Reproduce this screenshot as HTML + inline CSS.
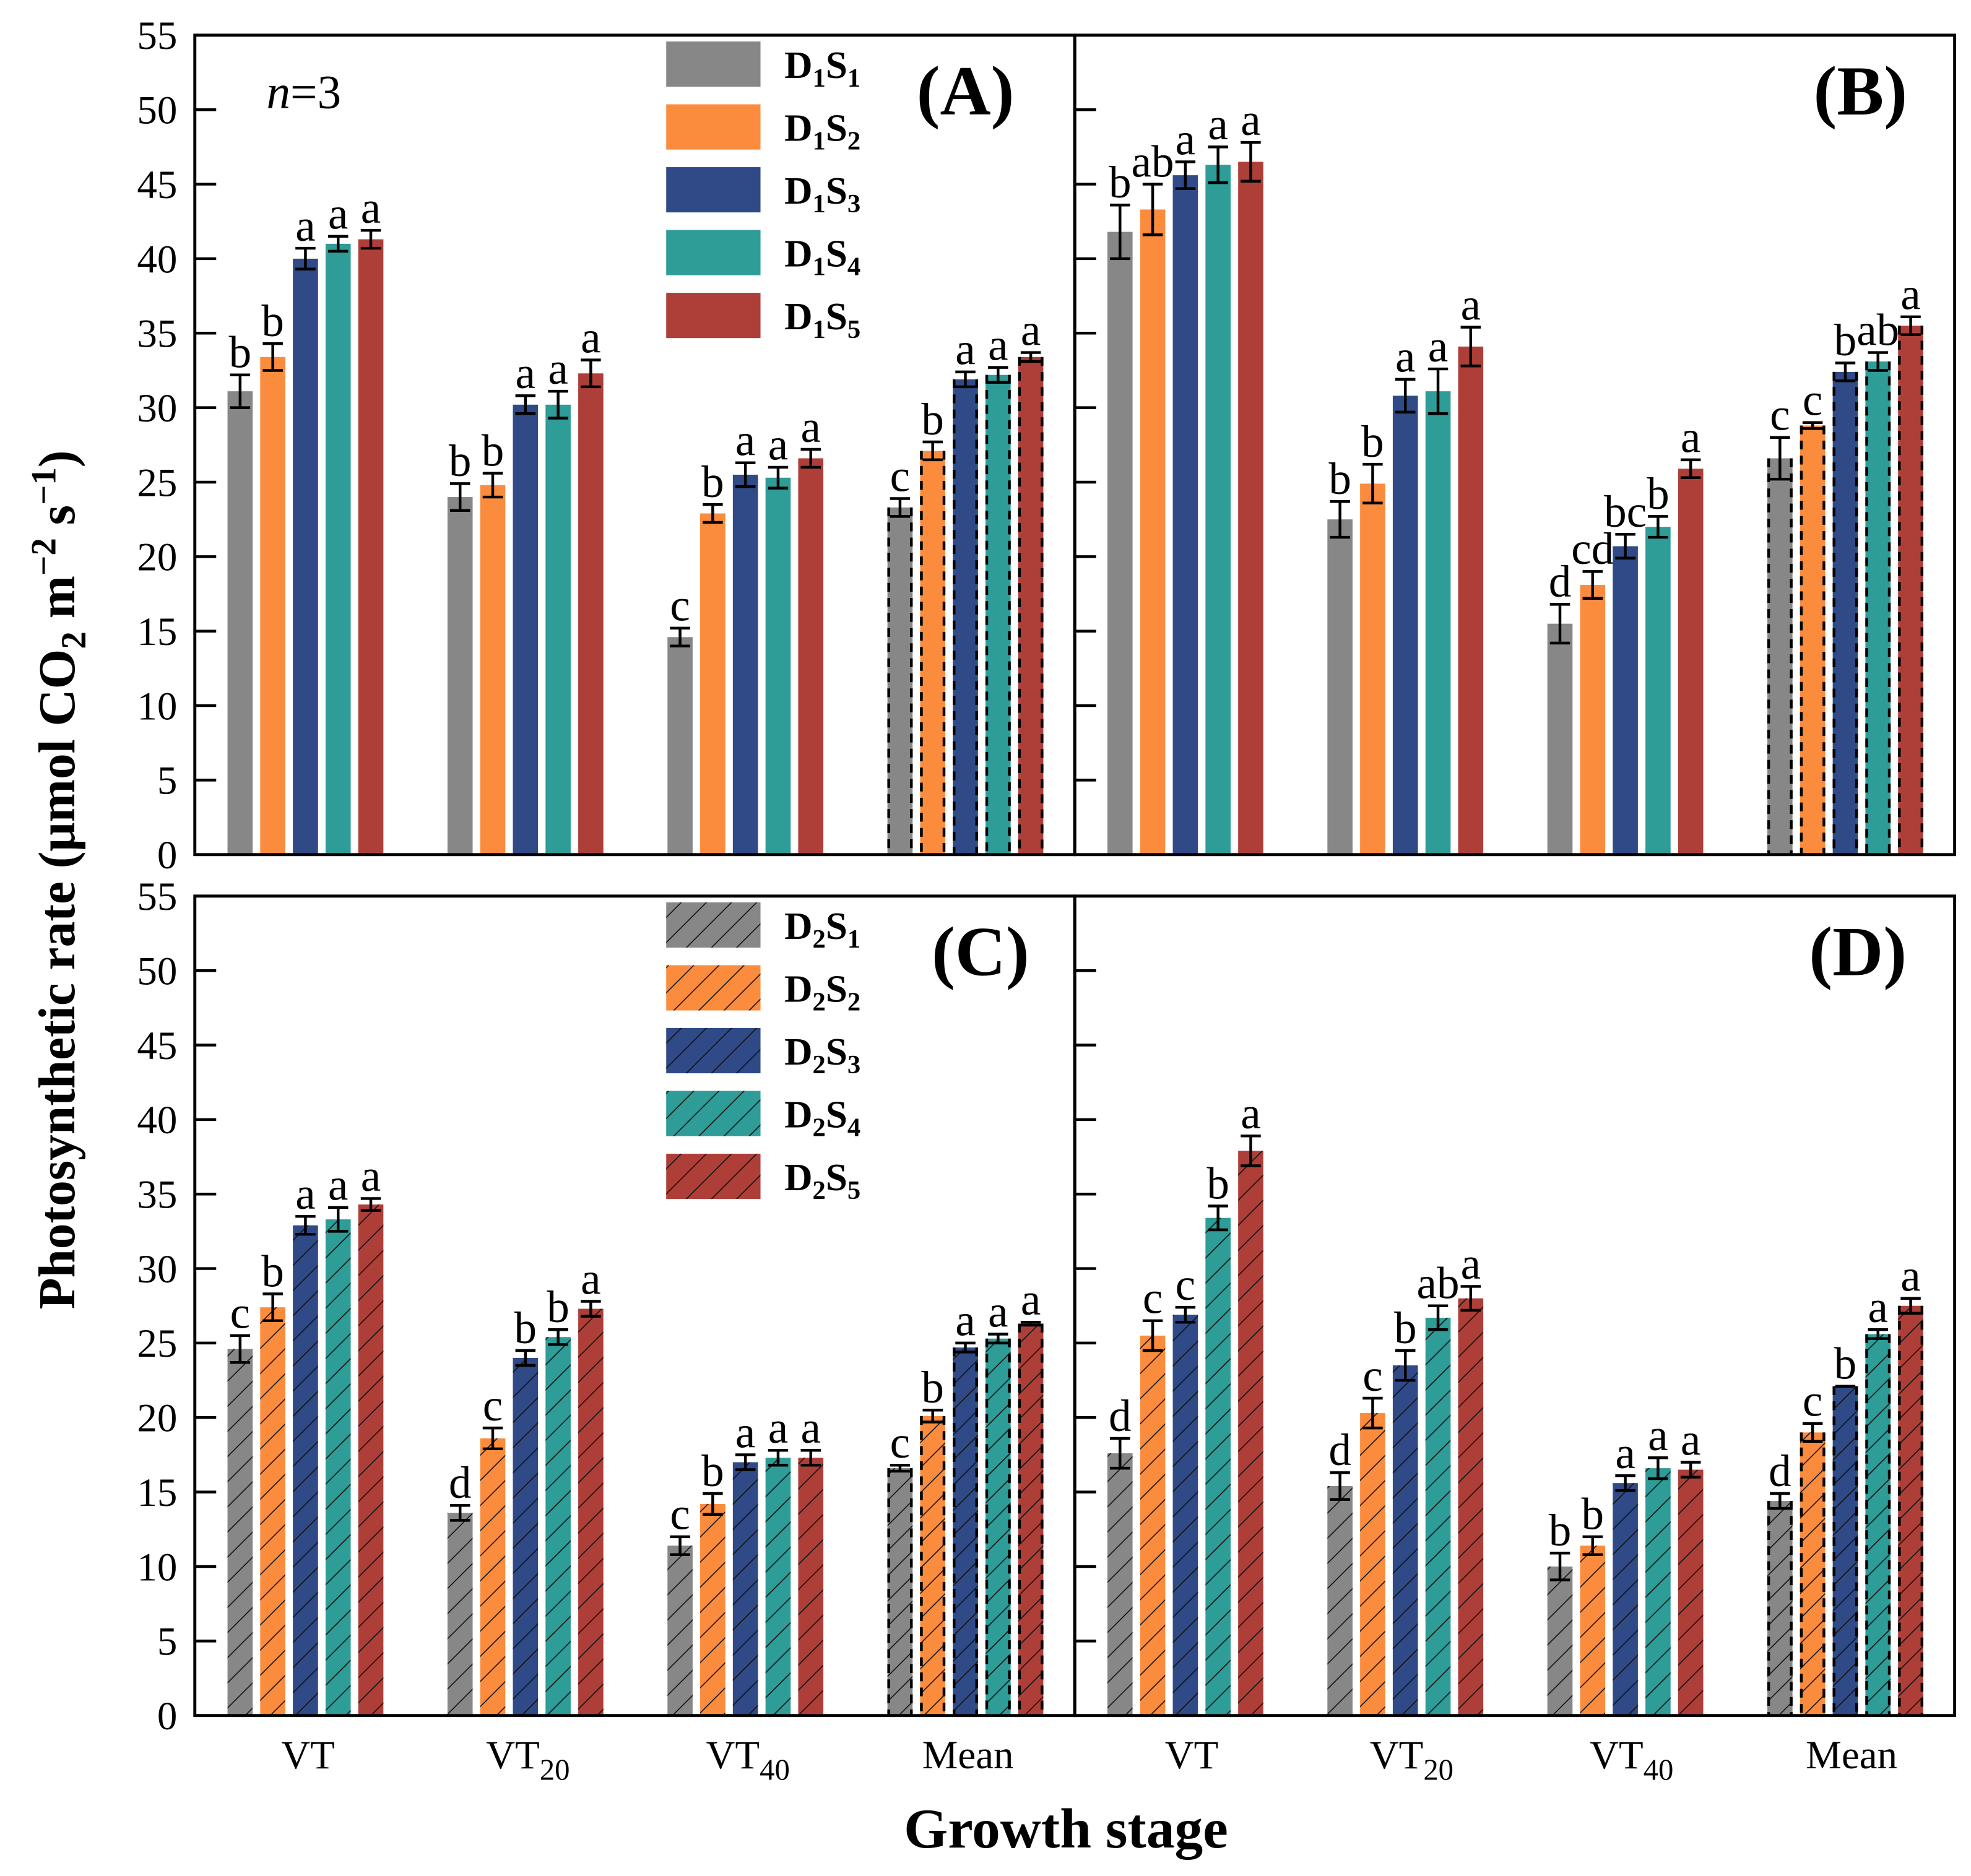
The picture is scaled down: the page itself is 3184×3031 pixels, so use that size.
<!DOCTYPE html>
<html><head><meta charset="utf-8">
<style>
html,body{margin:0;padding:0;background:#fff;}
svg{display:block;}
text{font-family:"Liberation Serif","DejaVu Serif",serif;}
</style></head>
<body>
<svg id="chart" width="3184" height="3031" viewBox="0 0 1568 1492.7" preserveAspectRatio="none" xmlns="http://www.w3.org/2000/svg">
<defs>
<pattern id="hatch" patternUnits="userSpaceOnUse" width="20" height="20">
<path d="M-2,22 L22,-2 M-12,12 L12,-12 M8,32 L32,8" stroke="#111" stroke-width="0.8"/>
</pattern>
</defs>
<g id="root"></g>
</svg>
<script>
const categories = ["VT","VT20","VT40","Mean"];
const seriesA = [[31.1,33.4,40.0,41.0,41.3],[24.0,24.8,30.2,30.2,32.3],[14.6,22.9,25.5,25.3,26.6],[23.3,27.1,31.9,32.2,33.4]];
const errA = [[1.1,0.9,0.7,0.5,0.6],[0.9,0.8,0.6,0.9,0.9],[0.6,0.6,0.8,0.7,0.6],[0.6,0.6,0.5,0.5,0.3]];
const letA = [["b","b","a","a","a"],["b","b","a","a","a"],["c","b","a","a","a"],["c","b","a","a","a"]];
const seriesB = [[41.8,43.3,45.6,46.3,46.5],[22.5,24.9,30.8,31.1,34.1],[15.5,18.1,20.7,22.0,25.9],[26.6,28.8,32.4,33.1,35.5]];
const errB = [[1.8,1.7,0.9,1.2,1.3],[1.2,1.3,1.1,1.5,1.3],[1.3,0.9,0.8,0.7,0.6],[1.4,0.2,0.6,0.6,0.6]];
const letB = [["b","ab","a","a","a"],["b","b","a","a","a"],["d","cd","bc","b","a"],["c","c","b","ab","a"]];
const seriesC = [[24.6,27.4,32.9,33.3,34.3],[13.6,18.6,24.0,25.4,27.3],[11.4,14.2,17.0,17.3,17.3],[16.6,20.1,24.7,25.3,26.3]];
const errC = [[0.9,0.9,0.6,0.8,0.4],[0.5,0.7,0.5,0.5,0.5],[0.6,0.7,0.5,0.5,0.5],[0.2,0.4,0.3,0.3,0.1]];
const letC = [["c","b","a","a","a"],["d","c","b","b","a"],["c","b","a","a","a"],["c","b","a","a","a"]];
const seriesD = [[17.6,25.5,26.9,33.4,37.9],[15.4,20.3,23.5,26.7,28.0],[10.0,11.4,15.6,16.6,16.5],[14.4,19.0,22.1,25.6,27.5]];
const errD = [[1.0,1.0,0.5,0.8,1.0],[0.9,1.0,1.0,0.8,0.8],[0.9,0.6,0.5,0.7,0.5],[0.5,0.6,0.0,0.3,0.5]];
const letD = [["d","c","c","b","a"],["d","c","b","ab","a"],["b","b","a","a","a"],["d","c","b","a","a"]];
const yTicks = [0,5,10,15,20,25,30,35,40,45,50,55];
const colors = ["#878787","#fb8c3e","#2f4a86","#2e9c97","#ae3f38"];

const NS="http://www.w3.org/2000/svg";
const root=document.getElementById('root');
function el(tag,attrs,parent){const e=document.createElementNS(NS,tag);for(const k in attrs)e.setAttribute(k,attrs[k]);(parent||root).appendChild(e);return e;}

const panels=[
 {name:"A",x0:155,y0:28,vals:seriesA,errs:errA,lets:letA,hatch:false},
 {name:"B",x0:855,y0:28,vals:seriesB,errs:errB,lets:letB,hatch:false},
 {name:"C",x0:155,y0:713,vals:seriesC,errs:errC,lets:letC,hatch:true},
 {name:"D",x0:855,y0:713,vals:seriesD,errs:errD,lets:letD,hatch:true}
];
const PW=700,PH=652,YMAX=55;

panels.forEach(p=>{
 const g=el('g',{});
 
 
 const yS=v=>p.y0+PH-v/YMAX*PH;
 const gx=i=>p.x0+88+i*175;
 yTicks.forEach(t=>{
  const y=yS(t);
  if(t>0&&t<55){const tk=el('line',{x1:p.x0,x2:p.x0+17,y1:y,y2:y,stroke:'#000','stroke-width':2.2},g);
   }
  if(p.name==="A"||p.name==="C"){
   const tl=el('text',{x:p.x0-14,y:y+11,'text-anchor':'end','font-size':32},g);
   tl.textContent=t;
   
  }
 });
 p.vals.forEach((grp,i)=>{
  grp.forEach((v,j)=>{
   const x=gx(i)+(j-2)*26-10, w=20, y=yS(v), h=yS(0)-y;
   const r=el('rect',{x:x,y:y,width:w,height:h,fill:colors[j]},g);
   
   
   if(p.hatch){el('rect',{x:x,y:y,width:w,height:h,fill:'url(#hatch)'},g);}
   if(i===3){
    el('line',{x1:x+1,x2:x+1,y1:y,y2:yS(0),stroke:'#000','stroke-width':2.2,'stroke-dasharray':'7,5'},g);
    el('line',{x1:x+w-1,x2:x+w-1,y1:y,y2:yS(0),stroke:'#000','stroke-width':2.2,'stroke-dasharray':'7,5'},g);
   }
   const e=p.errs[i][j], cx=x+w/2, yt=yS(v+e), yb=yS(v-e);
   const eb=el('path',{d:`M${cx-8},${yt}H${cx+8}M${cx},${yt}V${yb}M${cx-8},${yb}H${cx+8}`,stroke:'#000','stroke-width':2.2,fill:'none'},g);
   
   const lt=el('text',{x:cx,y:yt-6,'text-anchor':'middle','font-size':36},g);
   lt.textContent=p.lets[i][j];
   
  });
 });
 if(p.name==="C"||p.name==="D"){
  categories.forEach((c,i)=>{
   const t=el('text',{x:gx(i)+(p.name==="D"?5:2),y:1407,'text-anchor':'middle','font-size':32},g);
   
   if(c.startsWith("VT")&&c.length>2){
    t.textContent="VT";
    const s=el('tspan',{'font-size':24,dy:9},t);s.textContent=c.slice(2);
   } else t.textContent=c;
  });
 }
 const pl=el('text',{x:p.x0+(p.name==="A"?613:p.name==="C"?625:p.name==="B"?625:623),y:p.y0+63,'text-anchor':'middle','font-size':56,'font-weight':'bold'},g);
 pl.textContent="("+p.name+")";
 
});
[[155,28],[855,28],[155,713],[855,713]].forEach(([x,y])=>{
 const f=el('rect',{x:x,y:y,width:PW,height:PH,fill:'none',stroke:'#000','stroke-width':2.4});
 
});
[[28,1,false],[713,2,true]].forEach(([y0,d,h])=>{
 const lg=el('g',{});
 
 for(let j=0;j<5;j++){
  const y=y0+5+j*50;
  const sw=el('rect',{x:530,y:y,width:75,height:36,fill:colors[j]},lg);
  
  if(h)el('rect',{x:530,y:y,width:75,height:36,fill:'url(#hatch)'},lg);
  const t=el('text',{x:624,y:y+29,'font-size':31,'font-weight':'bold'},lg);
  
  t.appendChild(document.createTextNode('D'));
  let s=el('tspan',{'font-size':21,dy:7},t);s.textContent=d;
  s=el('tspan',{dy:-7},t);s.textContent='S';
  s=el('tspan',{'font-size':21,dy:7},t);s.textContent=(j+1);
 }
});
const n=el('text',{x:212,y:86,'font-size':38});

const ni=el('tspan',{'font-style':'italic'},n);ni.textContent='n';
const nr=el('tspan',{},n);nr.textContent='=3';
const xt=el('text',{x:848,y:1470,'text-anchor':'middle','font-size':45,'font-weight':'bold'});
xt.textContent='Growth stage';

const yt=el('text',{x:0,y:0,'text-anchor':'middle','font-size':41,'font-weight':'bold',transform:'translate(59,700) rotate(-90)'});

yt.appendChild(document.createTextNode('Photosynthetic rate (\u03bcmol CO'));
let ts=el('tspan',{'font-size':28,dy:9},yt);ts.textContent='2';
ts=el('tspan',{dy:-9},yt);ts.textContent=' m';
ts=el('tspan',{'font-size':28,dy:-15},yt);ts.textContent='\u22122';
ts=el('tspan',{dy:15},yt);ts.textContent=' s';
ts=el('tspan',{'font-size':28,dy:-15},yt);ts.textContent='\u22121';
ts=el('tspan',{dy:15},yt);ts.textContent=')';
</script>
</body></html>
